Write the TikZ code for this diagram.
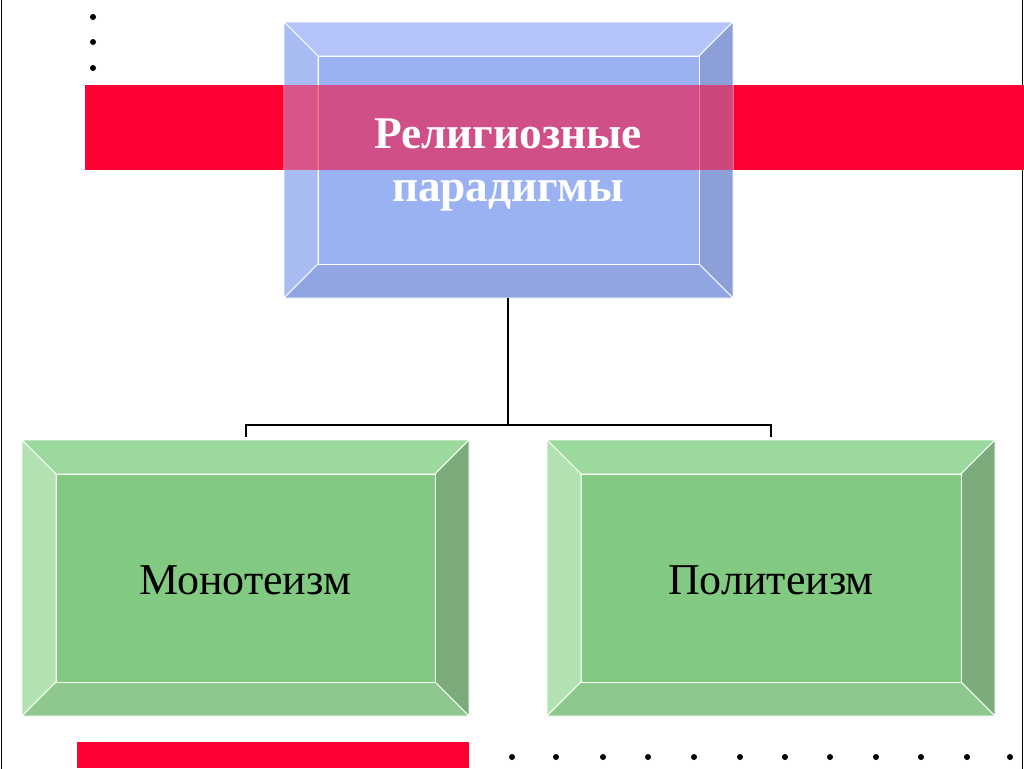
\documentclass[tikz,border=0pt]{standalone}
\usepackage{fontspec}
\setmainfont{Liberation Serif}
\definecolor{rd}{HTML}{FF0033}
\definecolor{bT}{HTML}{B4C4F8}\definecolor{bL}{HTML}{A9BCF2}\definecolor{bR}{HTML}{8C9FD9}\definecolor{bB}{HTML}{90A5E2}\definecolor{bC}{HTML}{9AB1F2}
\definecolor{gT}{HTML}{9CD99C}\definecolor{gL}{HTML}{B2E2B2}\definecolor{gR}{HTML}{7CAB7C}\definecolor{gB}{HTML}{8DC98D}\definecolor{gC}{HTML}{82C982}
\newcommand{\bevel}[9]{% x1 y1 x2 y2 d T L R B ; center color via \cc
  \fill[#6,draw=white,line width=0.6pt] (#1,#2)--(#3,#2)--(#3-#5,#2+#5)--(#1+#5,#2+#5)--cycle;
  \fill[#7,draw=white,line width=0.6pt] (#1,#2)--(#1+#5,#2+#5)--(#1+#5,#4-#5)--(#1,#4)--cycle;
  \fill[#8,draw=white,line width=0.6pt] (#3,#2)--(#3-#5,#2+#5)--(#3-#5,#4-#5)--(#3,#4)--cycle;
  \fill[#9,draw=white,line width=0.6pt] (#1,#4)--(#1+#5,#4-#5)--(#3-#5,#4-#5)--(#3,#4)--cycle;
}
\begin{document}
\begin{tikzpicture}[x=0.75pt,y=-0.75pt,line width=1.5pt,
  dot/.style={circle,fill=black,inner sep=0pt,minimum size=4.5pt}]
\useasboundingbox (0,0) rectangle (1024,768);
\draw[line width=1pt] (1.5,-5) -- (1.5,773) (1022.5,-5)--(1022.5,773);
\fill[rd] (85,85) rectangle (1024,170);
\bevel{284}{22}{733}{298}{34}{bT}{bL}{bR}{bB}
\fill[bC,draw=white,line width=0.6pt] (318,56) rectangle (699,264);
\fill[rd,opacity=0.55] (284,85) rectangle (733,170);
\node[text=white,font=\bfseries\fontsize{34}{40}\selectfont,align=center] (top) at (508,165) {Религиозные\\парадигмы};
\coordinate (tb) at (508,298);
\bevel{22}{440}{469}{716}{34}{gT}{gL}{gR}{gB}
\fill[gC,draw=white,line width=0.6pt] (56,474) rectangle (435,682);
\node[font=\fontsize{33}{40}\selectfont] (mono) at (245,580) {Монотеизм};
\bevel{547}{440}{995}{716}{34}{gT}{gL}{gR}{gB}
\fill[gC,draw=white,line width=0.6pt] (581,474) rectangle (961,682);
\node[font=\fontsize{33}{40}\selectfont] (poly) at (771,580) {Политеизм};
\draw (tb) -- (508,425) coordinate (j);
\draw (246,437) -- (246,425) -- (771,425) -- (771,437);
\fill[rd] (77,742) rectangle (469,768);
\foreach \y in {17,42,68} \node[dot] at (93,\y) {};
\foreach \x in {512,556,603,648,694,740,785,830,876,921,967,1010} \node[dot] at (\x,757) {};
\end{tikzpicture}
\end{document}
